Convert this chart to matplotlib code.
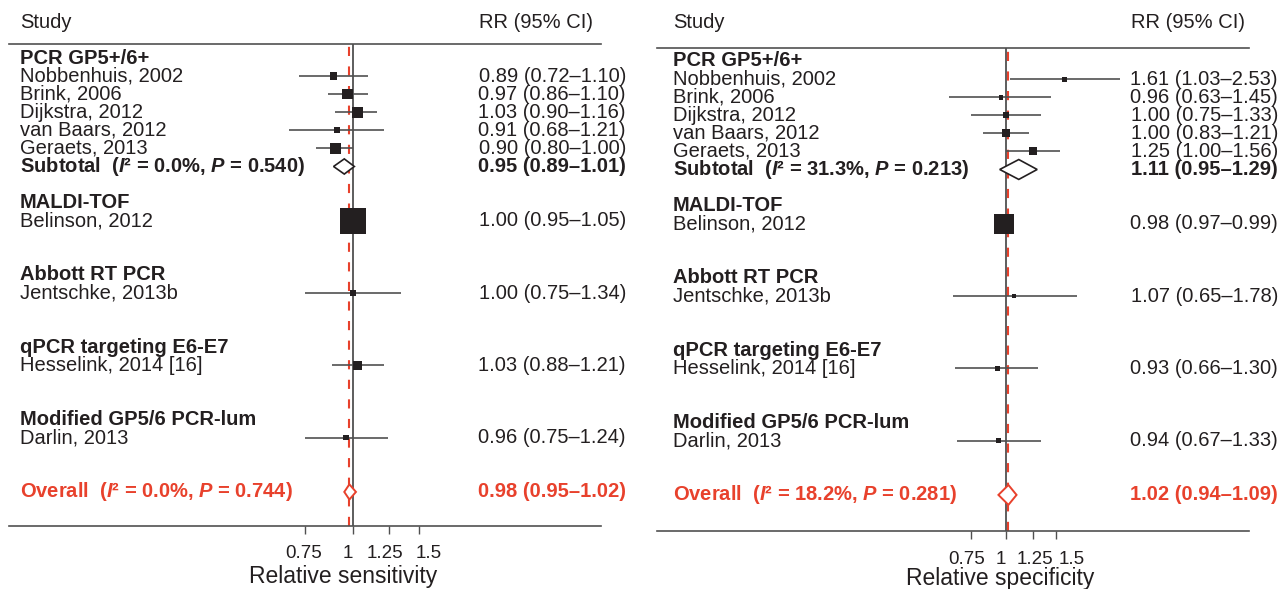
import matplotlib
matplotlib.use("Agg")
import matplotlib.pyplot as plt
import numpy as np
from matplotlib.patches import Polygon
from matplotlib.ticker import FixedLocator, NullFormatter, NullLocator
from matplotlib.transforms import blended_transform_factory, ScaledTranslation

# ---- data ----
groups = ["PCR GP5+/6+", "MALDI-TOF", "Abbott RT PCR",
          "qPCR targeting E6-E7", "Modified GP5/6 PCR-lum"]
studies = ["Nobbenhuis, 2002", "Brink, 2006", "Dijkstra, 2012", "van Baars, 2012",
           "Geraets, 2013", "Belinson, 2012", "Jentschke, 2013b",
           "Hesselink, 2014 [16]", "Darlin, 2013"]
study_group = [0, 0, 0, 0, 0, 1, 2, 3, 4]

sens_rr = [0.89, 0.97, 1.03, 0.91, 0.90, 1.00, 1.00, 1.03, 0.96]
sens_lo = [0.72, 0.86, 0.90, 0.68, 0.80, 0.95, 0.75, 0.88, 0.75]
sens_hi = [1.10, 1.10, 1.16, 1.21, 1.00, 1.05, 1.34, 1.21, 1.24]
sens_weight = [4.4, 8.9, 8.9, 2.6, 10.5, 53.8, 2.6, 6.4, 2.0]
sens_sub = [0.95, 0.89, 1.01]
sens_sub_i2, sens_sub_p = 0.0, 0.540
sens_all = [0.98, 0.95, 1.02]
sens_all_i2, sens_all_p = 0.0, 0.744

spec_rr = [1.61, 0.96, 1.00, 1.00, 1.25, 0.98, 1.07, 0.93, 0.94]
spec_lo = [1.03, 0.63, 0.75, 0.83, 1.00, 0.97, 0.65, 0.66, 0.67]
spec_hi = [2.53, 1.45, 1.33, 1.21, 1.56, 0.99, 1.78, 1.30, 1.33]
spec_weight = [3.6, 3.6, 6.1, 9.3, 9.3, 58.3, 2.3, 3.6, 3.6]
spec_sub = [1.11, 0.95, 1.29]
spec_sub_i2, spec_sub_p = 31.3, 0.213
spec_all = [1.02, 0.94, 1.09]
spec_all_i2, spec_all_p = 18.2, 0.281

tick_values = [0.75, 1, 1.25, 1.5]
tick_labels = ["0.75", "1", "1.25", "1.5"]

# ---- style ----
BLACK = "#231f20"
GREY = "#505050"
RED = "#e8412c"
FS = 14.5
W, H = 1280, 589

plt.rcParams["font.family"] = ["Liberation Sans", "DejaVu Sans"]
plt.rcParams["mathtext.fontset"] = "custom"
plt.rcParams["mathtext.rm"] = "Liberation Sans:bold"
plt.rcParams["mathtext.bf"] = "Liberation Sans:bold"
plt.rcParams["mathtext.it"] = "Liberation Sans:italic:bold"


def layout_rows():
    header_rows, subtotal_rows = [], []
    study_rows = [0] * len(studies)
    r = 0
    for g in range(len(groups)):
        header_rows.append(r)
        r += 1
        idx = [i for i, sg in enumerate(study_group) if sg == g]
        for i in idx:
            study_rows[i] = r
            r += 1
        subtotal_rows.append(r if len(idx) > 1 else None)
        r += 2
    return header_rows, study_rows, subtotal_rows, r


def fmt_ci(v):
    return f"{v[0]:.2f} ({v[1]:.2f}\u2013{v[2]:.2f})"


def het_label(word, i2, p):
    return f"{word}  ($I$\u00b2 = {i2:.1f}%, $P$ = {p:.3f})"


def draw_panel(fig, geom, rr, lo, hi, weight, sub, sub_i2, sub_p,
               overall, all_i2, all_p, xlabel):
    x0, ytop, x1, ybot = geom["box"]
    step = geom["row_step"]
    first = geom["first_row"]
    ax = fig.add_axes([x0 / W, 1 - ybot / H, (x1 - x0) / W, (ybot - ytop) / H])
    ax.set_xscale("log")
    ppl = geom["px_per_ln"]
    ax.set_xlim(np.exp((x0 - geom["one_px"]) / ppl), np.exp((x1 - geom["one_px"]) / ppl))
    ax.set_ylim((ybot - first) / step, (ytop - first) / step)

    tr = blended_transform_factory(ax.transAxes, ax.transData)

    def fx(px):
        return (px - x0) / (x1 - x0)

    header_rows, study_rows, subtotal_rows, overall_row = layout_rows()
    head_y = (geom["head_y"] - first) / step

    ax.text(fx(geom["label_x"]), head_y, "Study", transform=tr, ha="left",
            va="center", fontsize=FS, color=BLACK, clip_on=False)
    ax.text(fx(geom["head_right"]), head_y, "RR (95% CI)", transform=tr,
            ha="right", va="center", fontsize=FS, color=BLACK, clip_on=False)

    ax.axvline(1, color=GREY, lw=1.3, zorder=1)
    ax.axvline(overall[0], color=RED, lw=1.5, dashes=(4.4, 5.0), zorder=2)

    for g, name in enumerate(groups):
        ax.text(fx(geom["label_x"]), header_rows[g], name, transform=tr,
                ha="left", va="center", fontsize=FS, fontweight="bold",
                color=BLACK, clip_on=False)

    ys = np.array(study_rows)
    ax.hlines(ys, lo, hi, color=GREY, lw=1.2, zorder=3)
    side_pt = geom["box_scale"] * np.sqrt(np.array(weight)) * 0.72
    ax.scatter(rr, ys, s=side_pt ** 2, marker="s", color=BLACK, linewidths=0, zorder=4)
    for i, name in enumerate(studies):
        ax.text(fx(geom["label_x"]), ys[i], name, transform=tr, ha="left",
                va="center", fontsize=FS, color=BLACK, clip_on=False)
        ax.text(fx(geom["value_right"]), ys[i], fmt_ci((rr[i], lo[i], hi[i])),
                transform=tr, ha="right", va="center", fontsize=FS,
                color=BLACK, clip_on=False)

    hh = geom["diamond_h"]
    for g, r in enumerate(subtotal_rows):
        if r is None:
            continue
        ax.add_patch(Polygon([(sub[1], r), (sub[0], r - hh), (sub[2], r), (sub[0], r + hh)],
                             closed=True, facecolor="white", edgecolor=BLACK,
                             lw=1.2, zorder=4))
        ax.text(fx(geom["label_x"]), r, het_label("Subtotal", sub_i2, sub_p),
                transform=tr, ha="left", va="center", fontsize=FS,
                fontweight="bold", color=BLACK, clip_on=False)
        ax.text(fx(geom["value_right"]), r, fmt_ci(sub), transform=tr,
                ha="right", va="center", fontsize=FS, fontweight="bold",
                color=BLACK, clip_on=False)

    r = overall_row
    ax.add_patch(Polygon([(overall[1], r), (overall[0], r - hh), (overall[2], r),
                          (overall[0], r + hh)], closed=True, facecolor="white",
                         edgecolor=RED, lw=1.4, zorder=4))
    ax.text(fx(geom["label_x"]), r, het_label("Overall", all_i2, all_p),
            transform=tr, ha="left", va="center", fontsize=FS,
            fontweight="bold", color=RED, clip_on=False)
    ax.text(fx(geom["value_right"]), r, fmt_ci(overall), transform=tr,
            ha="right", va="center", fontsize=FS, fontweight="bold",
            color=RED, clip_on=False)

    for side in ("left", "right"):
        ax.spines[side].set_visible(False)
    for side in ("top", "bottom"):
        ax.spines[side].set_color(GREY)
        ax.spines[side].set_linewidth(1.2)
    ax.xaxis.set_major_locator(FixedLocator(tick_values))
    ax.xaxis.set_major_formatter(NullFormatter())
    ax.xaxis.set_minor_locator(NullLocator())
    ax.xaxis.set_minor_formatter(NullFormatter())
    ax.set_yticks([])
    ax.tick_params(axis="x", direction="out", length=5.8, width=1.0, colors=GREY)

    # tick labels nudged sideways like the original so they do not collide
    lab_y = (ybot - geom["tick_label_y"]) / (ybot - ytop)
    ttr = blended_transform_factory(ax.transData, ax.transAxes)
    for v, lab, dx in zip(tick_values, tick_labels, geom["tick_dx"]):
        ax.text(v, lab_y, lab, ha="center", va="center", fontsize=13.5,
                color=BLACK, clip_on=False,
                transform=ttr + ScaledTranslation(dx / 100, 0, fig.dpi_scale_trans))

    fig.text(geom["xlabel_x"] / W, 1 - geom["xlabel_y"] / H, xlabel,
             ha="center", va="center", fontsize=16.5, color=BLACK)
    return ax


def main():
    fig = plt.figure(figsize=(W / 100, H / 100), dpi=100)

    left_geom = dict(box=(9, 43.5, 601, 526), first_row=58, row_step=18.08,
                     one_px=352.7, px_per_ln=164.3, label_x=20, value_right=626,
                     head_right=593, head_y=23, diamond_h=0.42, box_scale=3.55,
                     xlabel_x=343.5, xlabel_y=577, tick_label_y=554,
                     tick_dx=[-2, -5, -4.5, 9])
    right_geom = dict(box=(657, 48.3, 1249, 530.7), first_row=61, row_step=18.08,
                      one_px=1006, px_per_ln=122.4, label_x=673, value_right=1278,
                      head_right=1245, head_y=23, diamond_h=0.55, box_scale=2.62,
                      xlabel_x=1000, xlabel_y=579, tick_label_y=559,
                      tick_dx=[-4, -5.5, 2, 16])

    draw_panel(fig, left_geom, sens_rr, sens_lo, sens_hi, sens_weight,
               sens_sub, sens_sub_i2, sens_sub_p, sens_all, sens_all_i2,
               sens_all_p, "Relative sensitivity")
    draw_panel(fig, right_geom, spec_rr, spec_lo, spec_hi, spec_weight,
               spec_sub, spec_sub_i2, spec_sub_p, spec_all, spec_all_i2,
               spec_all_p, "Relative specificity")

    fig.savefig("out.png", dpi=100)
    plt.close(fig)


if __name__ == "__main__":
    main()
